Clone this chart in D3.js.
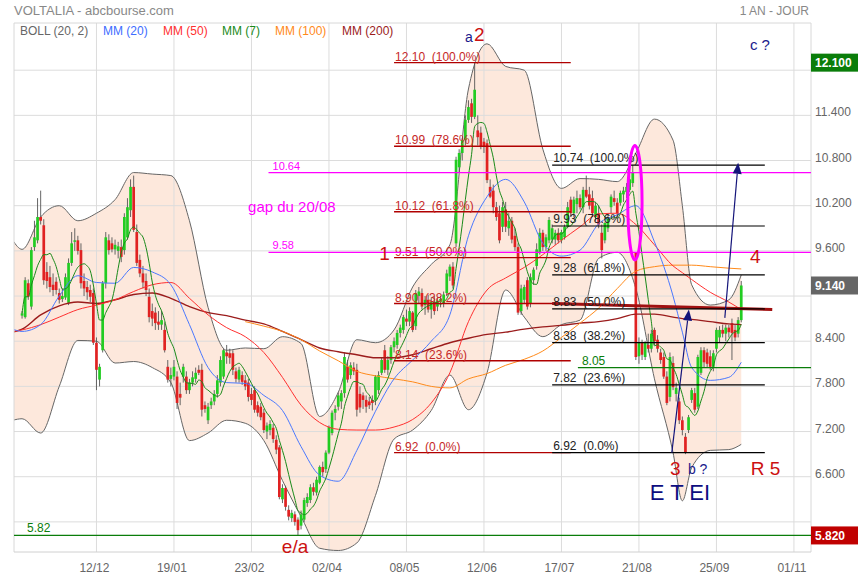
<!DOCTYPE html>
<html><head><meta charset="utf-8">
<script src="https://cdn.jsdelivr.net/npm/d3@7"></script>
<style>body{margin:0;background:#fff;} text{font-family:"Liberation Sans",Arial,sans-serif;}</style>
</head><body>
<svg id="c" width="860" height="580"></svg>
<script>
// ---------- DATA ----------
// daily candles [open, high, low, close]
const candles = [
[8.74,8.80,8.70,8.77],[8.72,9.25,8.70,9.21],[9.17,9.22,8.95,8.99],[8.86,9.65,8.82,9.61],[9.65,10.00,9.60,9.78],
[9.74,10.30,9.70,10.05],[10.05,10.40,9.95,10.00],[9.94,10.02,9.15,9.21],[9.32,9.45,9.10,9.20],[9.25,9.40,9.05,9.12],
[9.15,9.30,9.00,9.08],[9.19,9.25,9.02,9.08],[9.04,9.10,8.90,8.95],[8.96,9.10,8.92,9.00],[8.98,9.30,8.95,9.25],
[8.91,9.50,8.88,9.44],[9.44,9.85,9.40,9.70],[9.72,9.90,9.60,9.74],[9.74,9.80,9.55,9.60],[9.61,9.70,9.10,9.17],
[9.20,9.30,9.00,9.10],[9.12,9.20,8.95,9.05],[9.08,9.15,8.92,8.99],[9.04,9.10,8.35,8.38],[8.38,8.45,7.75,8.02],
[7.89,8.10,7.80,8.06],[8.28,9.20,8.25,9.17],[9.17,9.85,9.10,9.78],[9.74,9.82,9.55,9.61],[9.70,9.78,9.58,9.62],
[9.62,9.75,9.55,9.68],[9.60,9.72,9.50,9.66],[9.65,9.75,9.45,9.52],[9.61,10.10,9.55,10.05],[9.78,10.30,9.75,10.18],
[10.14,10.55,10.05,10.45],[10.45,10.60,9.85,9.88],[9.85,9.95,9.40,9.44],[9.48,9.55,9.25,9.30],[9.30,9.40,9.10,9.18],
[9.20,9.30,9.00,9.08],[8.99,9.10,8.65,8.72],[8.80,8.90,8.60,8.70],[8.78,8.85,8.55,8.64],[8.66,8.80,8.55,8.62],
[8.62,8.80,8.55,8.68],[8.55,8.65,8.25,8.28],[8.06,8.15,7.85,7.89],[7.90,8.05,7.80,7.95],[7.93,8.15,7.88,8.06],
[7.93,8.00,7.50,7.58],[7.70,7.85,7.55,7.65],[7.93,8.10,7.85,8.06],[7.93,8.00,7.70,7.75],[7.75,7.90,7.70,7.85],
[7.85,8.00,7.80,7.92],[7.90,8.05,7.85,7.98],[8.02,8.08,7.95,7.98],[8.02,8.10,7.40,7.49],[7.55,7.60,7.45,7.50],
[7.35,7.58,7.30,7.53],[7.55,7.65,7.50,7.60],[7.60,7.75,7.55,7.70],[7.70,7.95,7.65,7.88],[7.85,8.20,7.80,8.15],
[7.93,8.30,7.90,8.28],[8.25,8.35,8.10,8.20],[8.24,8.30,8.10,8.18],[8.24,8.28,7.95,8.02],[8.00,8.05,7.85,7.90],
[7.89,8.06,7.85,8.02],[7.95,8.00,7.82,7.86],[7.88,7.95,7.75,7.80],[7.85,7.90,7.60,7.66],[7.70,7.78,7.55,7.62],
[7.75,7.80,7.45,7.49],[7.55,7.60,7.40,7.45],[7.53,7.58,7.35,7.39],[7.45,7.50,7.18,7.22],[7.20,7.32,7.10,7.28],
[7.22,7.35,7.15,7.30],[7.25,7.30,7.05,7.10],[7.09,7.15,6.90,6.96],[6.99,7.02,6.30,6.33],[6.30,6.50,6.25,6.45],
[6.45,6.48,6.15,6.20],[6.16,6.22,6.02,6.07],[6.05,6.16,6.00,6.12],[6.10,6.14,5.95,6.00],[6.03,6.06,5.82,5.89],
[5.95,6.15,5.90,6.10],[6.03,6.32,6.00,6.29],[6.25,6.38,6.20,6.33],[6.29,6.50,6.25,6.46],[6.46,6.52,6.35,6.40],
[6.39,6.60,6.35,6.56],[6.52,6.75,6.50,6.73],[6.73,6.80,6.60,6.66],[6.70,6.95,6.65,6.92],[6.92,7.28,6.90,7.26],
[7.18,7.48,7.15,7.45],[7.45,7.55,7.35,7.50],[7.53,7.72,7.48,7.68],[7.60,7.75,7.50,7.71],[7.71,8.25,7.65,8.19],
[8.06,8.15,7.85,7.89],[7.95,8.12,7.90,8.08],[8.05,8.12,7.95,8.00],[8.02,8.10,7.40,7.49],[7.70,7.80,7.45,7.52],
[7.68,7.72,7.50,7.62],[7.62,7.68,7.45,7.53],[7.60,7.66,7.50,7.55],[7.62,7.68,7.48,7.58],[7.62,7.95,7.55,7.93],
[7.75,8.00,7.70,7.95],[7.98,8.18,7.95,8.15],[8.28,8.35,7.98,8.02],[8.02,8.20,7.95,8.15],[8.15,8.35,8.10,8.32],
[8.32,8.45,8.25,8.40],[8.35,8.55,8.30,8.51],[8.51,8.62,8.45,8.58],[8.55,8.75,8.50,8.72],[8.70,8.82,8.60,8.66],
[8.66,8.85,8.60,8.80],[8.78,8.80,8.52,8.55],[8.60,9.08,8.55,9.04],[9.00,9.12,8.90,9.06],[9.04,9.10,8.82,8.86],
[8.88,9.00,8.75,8.95],[8.95,9.02,8.78,8.82],[8.82,8.98,8.70,8.92],[8.92,9.00,8.75,8.80],[8.86,8.98,8.80,8.94],
[8.92,9.00,8.85,8.96],[8.90,9.06,8.85,9.02],[9.04,9.35,9.00,9.30],[9.26,9.42,9.20,9.39],[9.39,9.45,9.10,9.14],
[9.70,10.85,9.65,10.81],[10.71,10.95,10.65,10.90],[10.90,11.10,10.80,11.07],[11.07,11.40,11.00,11.34],[11.34,11.60,11.30,11.51],
[11.56,11.62,11.30,11.38],[11.38,12.10,11.35,11.74],[11.20,11.40,11.00,11.11],[11.17,11.25,10.95,10.99],[11.05,11.10,10.90,10.98],
[11.03,11.08,10.50,10.54],[10.45,10.55,10.30,10.32],[10.40,10.48,10.10,10.18],[10.18,10.25,10.00,10.05],[10.10,10.20,9.70,9.74],
[9.92,10.25,9.85,10.18],[10.15,10.25,9.85,9.92],[9.90,10.10,9.80,10.00],[10.00,10.05,9.70,9.75],[9.80,9.90,9.60,9.65],
[9.65,9.70,8.75,8.78],[8.80,9.15,8.75,9.10],[8.95,9.15,8.90,9.12],[9.21,9.25,8.82,8.86],[8.90,9.30,8.85,9.25],
[9.21,9.38,9.15,9.35],[9.40,9.70,9.35,9.62],[9.57,9.90,9.55,9.84],[9.84,9.88,9.60,9.65],[9.65,9.82,9.60,9.78],
[9.74,10.05,9.70,10.01],[9.75,9.95,9.70,9.90],[9.75,9.88,9.68,9.84],[9.84,9.90,9.70,9.74],[9.74,9.88,9.70,9.85],
[9.78,9.95,9.75,9.92],[9.92,10.25,9.90,10.18],[10.28,10.32,10.05,10.10],[10.10,10.32,10.05,10.28],[10.22,10.40,10.10,10.30],
[10.30,10.35,10.15,10.18],[10.18,10.45,10.10,10.41],[10.41,10.60,10.30,10.32],[10.35,10.45,10.15,10.20],[10.30,10.40,10.05,10.10],
[10.05,10.25,10.00,10.20],[10.10,10.20,9.90,9.95],[9.84,9.95,9.50,9.61],[9.74,9.98,9.70,9.97],[9.90,10.10,9.85,10.05],
[10.18,10.35,10.10,10.32],[10.30,10.40,10.20,10.25],[10.24,10.30,10.05,10.10],[10.24,10.40,10.20,10.37],[10.35,10.45,10.25,10.40],
[10.38,10.50,10.30,10.45],[10.41,10.60,10.38,10.55],[10.50,10.74,10.45,10.64],[9.58,9.58,8.15,8.19],[8.20,8.45,8.10,8.38],
[8.38,8.42,8.15,8.22],[8.19,8.40,8.15,8.38],[8.35,8.50,8.25,8.30],[8.30,8.55,8.25,8.50],[8.55,8.58,8.35,8.40],
[8.42,8.48,8.25,8.30],[8.25,8.30,8.10,8.15],[8.19,8.25,7.90,7.93],[7.93,8.00,7.55,7.58],[7.66,8.25,7.60,8.19],
[8.11,8.20,7.75,7.79],[7.70,7.85,7.60,7.78],[7.60,7.65,7.30,7.35],[7.35,7.40,7.15,7.22],[7.13,7.18,6.90,6.92],
[7.22,7.42,7.18,7.39],[7.62,7.78,7.58,7.75],[7.71,7.78,7.45,7.49],[7.53,8.22,7.50,8.19],[7.98,8.32,7.95,8.28],
[8.28,8.32,8.05,8.12],[8.25,8.30,8.05,8.10],[8.20,8.28,8.02,8.06],[8.06,8.28,8.00,8.24],[8.30,8.58,8.25,8.55],
[8.45,8.60,8.38,8.55],[8.55,8.62,8.45,8.50],[8.50,8.62,8.40,8.58],[8.58,8.62,8.45,8.52],[8.64,8.70,8.15,8.51],
[8.55,8.62,8.40,8.45],[8.50,8.72,8.45,8.68],[8.68,9.20,8.65,9.14]
];

// x axis ticks (trading-day index) and labels
const tickDays   = [24, 49, 74, 99, 124, 149, 174, 199, 224, 249];
const tickLabels = ["12/12","19/01","23/02","02/04","08/05","12/06","17/07","21/08","25/09","01/11"];
// price axis ticks
const priceTicks = [6.0, 6.6, 7.2, 7.8, 8.4, 9.0, 9.6, 10.2, 10.8, 11.4, 12.0];

// indicator readings (sampled on these day indices)
const smpDays = [-3,0,6,12,18,24,30,36,42,48,54,60,66,72,78,84,90,96,102,108,114,120,126,132,138,144,150,156,162,168,174,180,186,192,198,204,210,213,216,222,228,232];
const bollUp = [9.74,9.62,10.05,10.20,10.00,10.10,10.28,10.64,10.62,10.60,10.00,8.85,8.28,8.31,8.30,8.46,8.37,7.40,7.72,8.42,8.38,8.55,9.12,9.42,9.68,11.75,12.35,12.05,12.00,10.95,10.43,10.56,10.55,10.52,10.90,11.35,11.07,10.20,9.15,8.88,8.95,9.28];
const bollLo = [7.35,7.37,7.18,7.80,8.41,8.40,8.11,8.13,8.05,7.85,7.08,7.18,7.35,7.31,7.08,6.55,6.07,5.65,5.62,5.72,6.35,7.10,7.22,7.48,7.95,7.49,7.98,9.08,8.72,8.46,8.62,8.68,9.50,9.58,9.10,7.90,6.92,6.28,6.72,6.95,6.96,7.03];
const mm20   = [8.56,8.53,8.62,9.00,9.27,9.18,9.17,9.38,9.32,9.15,8.62,8.05,7.85,7.84,7.68,7.48,7.00,6.62,6.54,6.95,7.47,7.90,8.15,8.40,8.75,9.80,10.32,10.55,10.25,9.70,9.53,9.61,9.96,10.08,10.20,9.72,9.00,8.52,8.05,7.88,7.92,8.12];
const mm50   = [8.53,8.55,8.62,8.72,8.82,8.88,8.95,9.06,9.15,9.18,8.97,8.75,8.58,8.46,8.25,7.92,7.55,7.32,7.23,7.22,7.22,7.26,7.36,7.58,7.98,8.66,9.08,9.24,9.38,9.55,9.74,9.92,10.09,10.10,9.95,9.68,9.40,9.31,9.22,9.05,8.92,8.82];
const mm200  = [8.52,8.56,8.75,8.87,8.92,8.90,8.95,9.02,9.04,8.97,8.86,8.78,8.74,8.68,8.63,8.53,8.42,8.31,8.26,8.22,8.18,8.18,8.22,8.30,8.38,8.44,8.49,8.52,8.56,8.59,8.61,8.64,8.66,8.70,8.76,8.76,8.72,8.70,8.69,8.66,8.63,8.62];
const mm100Days = [72,78,84,90,96,102,108,114,120,126,132,138,144,150,156,162,168,174,180,186,192,198,204,210,216,222,228,232];
const mm100  = [8.66,8.60,8.53,8.42,8.27,8.14,8.00,7.94,7.90,7.86,7.80,7.78,7.90,7.97,8.08,8.16,8.27,8.45,8.64,8.84,9.10,9.33,9.39,9.41,9.41,9.39,9.37,9.36];

// Fibonacci retracements
const fibPct = ["100.0%","78.6%","61.8%","50.0%","38.2%","23.6%","0.0%"];
const fibA = [12.10, 10.99, 10.12, 9.51, 8.90, 8.14, 6.92];
const fibB = [10.74, 9.93, 9.28, 8.83, 8.38, 7.82, 6.92];
const fibASpan = [120, 177];
const fibBSpan = [171, 239.6];
// horizontal levels
const gapLevels = [10.64, 9.58];
const greenLevels = [{v:5.82, from:-2.6}, {v:8.05, from:179.3}];
const tags = [{v:12.10, c:"#0a7d0a"}, {v:9.14, c:"#666666"}, {v:5.82, c:"#c00000"}];

const legend = [
  {t:"BOLL (20, 2)", c:"#666"}, {t:"MM (20)", c:"#3d6dff"}, {t:"MM (50)", c:"#ff3030"},
  {t:"MM (7)", c:"#1a8a1a"}, {t:"MM (100)", c:"#ff8a1a"}, {t:"MM (200)", c:"#9b1c1c"}];
const legendX = [20, 103, 163, 222, 275, 342];

const notes = [
  {t:"a", d:142.9, v:12.37, c:"#1a1a8c", s:14},
  {t:"2", d:145.8, v:12.39, c:"#cc1111", s:19},
  {t:"c ?", d:234.8, v:12.27, c:"#1a1a8c", s:15},
  {t:"1", d:115.2, v:9.48, c:"#cc1111", s:19},
  {t:"4", d:234.8, v:9.44, c:"#cc1111", s:19},
  {t:"3", d:209.0, v:6.62, c:"#cc1111", s:19},
  {t:"b ?", d:214.8, v:6.64, c:"#1a1a8c", s:14},
  {t:"R 5", d:235.1, v:6.62, c:"#cc1111", s:19},
  {t:"E T EI", d:202.5, v:6.29, c:"#0d0d80", s:22},
  {t:"e/a", d:83.8, v:5.59, c:"#cc1111", s:19},
  {t:"gap du 20/08", d:72.9, v:10.12, c:"#ff00ff", s:15}
];
const arrows = [{d0:209.6, v0:6.92, d1:215.1, v1:8.82}, {d0:226.7, v0:8.71, d1:231.0, v1:10.77}];
const trend = {d0:171, v0:8.90, d1:242, v1:8.82};
const ellipse = {d:197.7, v:10.24, hd:2.3, hv:0.76};

// ---------- DRAW ----------
const svg = d3.select("#c");
const L = 14, R = 811, T = 23, B = 552;
const x = d3.scaleLinear().domain([-2.6, 254.5]).range([L, R]);
const y = d3.scaleLinear().domain([5.60, 12.64]).range([B, 22]);

svg.append("defs").append("clipPath").attr("id","plot")
  .append("rect").attr("x",L).attr("y",T).attr("width",R-L).attr("height",B-T);

// header
svg.append("text").attr("x",14).attr("y",15).attr("font-size",13).attr("fill","#888").text("VOLTALIA - abcbourse.com");
svg.append("text").attr("x",809).attr("y",15).attr("text-anchor","end").attr("font-size",12).attr("fill","#888").text("1 AN - JOUR");

const g = svg.append("g").attr("clip-path","url(#plot)");

// bollinger fill
const band = smpDays.map((d,i)=>({d, u:bollUp[i], l:bollLo[i]}));
g.append("path").datum(band)
  .attr("d", d3.area().x(p=>x(p.d)).y0(p=>y(p.l)).y1(p=>y(p.u)).curve(d3.curveMonotoneX))
  .attr("fill","#fde8dc");

// grid
g.selectAll(".hg").data(priceTicks).join("line")
  .attr("x1",L).attr("x2",R).attr("y1",d=>y(d)).attr("y2",d=>y(d))
  .attr("stroke","#dcdcdc").attr("stroke-width",1);
g.selectAll(".vg").data(tickDays).join("line")
  .attr("x1",d=>x(d)).attr("x2",d=>x(d)).attr("y1",T).attr("y2",B)
  .attr("stroke","#dcdcdc").attr("stroke-width",1);

// band lines
const lineOf = (days, vals) => d3.line().x((v,i)=>x(days[i])).y(v=>y(v)).curve(d3.curveMonotoneX)(vals);
g.append("path").attr("d", lineOf(smpDays, bollUp)).attr("fill","none").attr("stroke","#666").attr("stroke-width",1);
g.append("path").attr("d", lineOf(smpDays, bollLo)).attr("fill","none").attr("stroke","#666").attr("stroke-width",1);

// candles
const cw = 2.7;
const cg = g.append("g");
cg.selectAll(".wk").data(candles).join("line")
  .attr("x1",(d,i)=>x(i)).attr("x2",(d,i)=>x(i))
  .attr("y1",d=>y(d[1])).attr("y2",d=>y(d[2]))
  .attr("stroke","#555").attr("stroke-width",0.9);
cg.selectAll(".bd").data(candles).join("rect")
  .attr("x",(d,i)=>x(i)-cw/2).attr("width",cw)
  .attr("y",d=>y(Math.max(d[0],d[3])))
  .attr("height",d=>Math.max(1, Math.abs(y(d[0])-y(d[3]))))
  .attr("fill",d=>d[3]>=d[0] ? "#22cc22" : "#e02222");

// moving averages
g.append("path").attr("d", lineOf(smpDays, mm200)).attr("fill","none").attr("stroke","#9b1c1c").attr("stroke-width",1.4);
g.append("path").attr("d", lineOf(mm100Days, mm100)).attr("fill","none").attr("stroke","#ff8a1a").attr("stroke-width",1);
g.append("path").attr("d", lineOf(smpDays, mm50)).attr("fill","none").attr("stroke","#ff3030").attr("stroke-width",1);
g.append("path").attr("d", lineOf(smpDays, mm20)).attr("fill","none").attr("stroke","#4a78ff").attr("stroke-width",1);
const closes = candles.map(c=>c[3]);
const mm7 = closes.map((c,i)=>d3.mean(closes.slice(Math.max(0,i-6), i+1)));
g.append("path").attr("d", d3.line().x((v,i)=>x(i)).y(v=>y(v)).curve(d3.curveMonotoneX)(mm7))
  .attr("fill","none").attr("stroke","#1a8a1a").attr("stroke-width",1);

// frame
svg.append("line").attr("x1",L).attr("x2",R).attr("y1",T).attr("y2",T).attr("stroke","#d8d8d8");
svg.append("line").attr("x1",L).attr("x2",L).attr("y1",T).attr("y2",B).attr("stroke","#d8d8d8");
svg.append("line").attr("x1",R).attr("x2",R).attr("y1",T).attr("y2",B).attr("stroke","#d8d8d8");
svg.append("line").attr("x1",L).attr("x2",R).attr("y1",B).attr("y2",B).attr("stroke","#d0d0d0");

// legend
svg.selectAll(".lg").data(legend).join("text")
  .attr("x",(d,i)=>legendX[i]).attr("y",35).attr("font-size",12).attr("fill",d=>d.c).text(d=>d.t);

// annotations layer
const a = svg.append("g").attr("clip-path","url(#plot)");
// fib A
fibA.forEach((v,i)=>{
  a.append("line").attr("x1",x(fibASpan[0])).attr("x2",x(fibASpan[1])).attr("y1",y(v)).attr("y2",y(v))
    .attr("stroke","#b00000").attr("stroke-width",1.4);
  a.append("text").attr("x",x(fibASpan[0])+1).attr("y",y(v)-2).attr("font-size",12)
    .style("white-space","pre").attr("fill","#c62828").text(v.toFixed(2)+"  ("+fibPct[i]+")");
});
// magenta gap lines
gapLevels.forEach(v=>{
  a.append("line").attr("x1",x(79.5)).attr("x2",R).attr("y1",y(v)).attr("y2",y(v)).attr("stroke","#ff00ff").attr("stroke-width",1.2);
  a.append("text").attr("x",x(80.8)).attr("y",y(v)-3).attr("font-size",11).attr("fill","#ff00ff").text(v.toFixed(2));
});
// green levels
greenLevels.forEach(o=>{
  a.append("line").attr("x1",x(o.from)).attr("x2",R).attr("y1",y(o.v)).attr("y2",y(o.v)).attr("stroke","#0a7d0a").attr("stroke-width",1.2);
  a.append("text").attr("x",x(o.from)+(o.from<0?13:4)).attr("y",y(o.v)-3).attr("font-size",12).attr("fill","#0a7d0a").text(o.v.toFixed(2));
});
// thick trend line
a.append("line").attr("x1",x(trend.d0)).attr("x2",x(trend.d1)).attr("y1",y(trend.v0)).attr("y2",y(trend.v1))
  .attr("stroke","#a01010").attr("stroke-width",3);
// fib B
fibB.forEach((v,i)=>{
  a.append("line").attr("x1",x(fibBSpan[0])).attr("x2",x(fibBSpan[1])).attr("y1",y(v)).attr("y2",y(v))
    .attr("stroke","#000").attr("stroke-width",1.2);
  a.append("text").attr("x",x(fibBSpan[0])+1).attr("y",y(v)-3).attr("font-size",12)
    .style("white-space","pre").attr("fill","#222").text(v.toFixed(2)+"  ("+fibPct[i]+")");
});
// ellipse
a.append("ellipse").attr("cx",x(ellipse.d)).attr("cy",y(ellipse.v))
  .attr("rx",x(ellipse.d+ellipse.hd)-x(ellipse.d)).attr("ry",y(ellipse.v-ellipse.hv)-y(ellipse.v))
  .attr("fill","none").attr("stroke","#ff00ff").attr("stroke-width",3);
// arrows
arrows.forEach(ar=>{
  const x0=x(ar.d0), y0=y(ar.v0), x1=x(ar.d1), y1=y(ar.v1);
  const ang=Math.atan2(y1-y0,x1-x0), len=11, w=4.5;
  const bx=x1-len*Math.cos(ang), by=y1-len*Math.sin(ang);
  a.append("line").attr("x1",x0).attr("y1",y0).attr("x2",bx).attr("y2",by).attr("stroke","#14147a").attr("stroke-width",1.2);
  const px=-Math.sin(ang)*w, py=Math.cos(ang)*w;
  a.append("path").attr("d",`M${x1},${y1}L${bx+px},${by+py}L${bx-px},${by-py}Z`).attr("fill","#14147a");
});
// text notes
notes.forEach(n=>{
  svg.append("text").attr("x",x(n.d)).attr("y",y(n.v)).attr("font-size",n.s).attr("fill",n.c)
    .style("white-space","pre").text(n.t);
});

// right axis labels (those hidden under a value tag are skipped)
const visibleTicks = priceTicks.filter(p => tags.every(t => Math.abs(y(p)-y(t.v)) > 15));
svg.selectAll(".yl").data(visibleTicks).join("text")
  .attr("x",815).attr("y",d=>y(d)+1).attr("font-size",12).attr("fill","#666").text(d=>d3.format(".3f")(d));
// tags
tags.forEach(t=>{
  svg.append("rect").attr("x",811).attr("y",y(t.v)-9).attr("width",47).attr("height",18).attr("fill",t.c);
  svg.append("text").attr("x",815).attr("y",y(t.v)+4.5).attr("font-size",12).attr("font-weight","bold")
    .attr("fill","#fff").text(d3.format(".3f")(t.v));
});
// x labels
svg.selectAll(".xl").data(tickDays).join("text")
  .attr("x",d=>x(d)-2).attr("y",572).attr("text-anchor","middle").attr("font-size",12).attr("fill","#666")
  .text((d,i)=>tickLabels[i]);
</script>
</body></html>
